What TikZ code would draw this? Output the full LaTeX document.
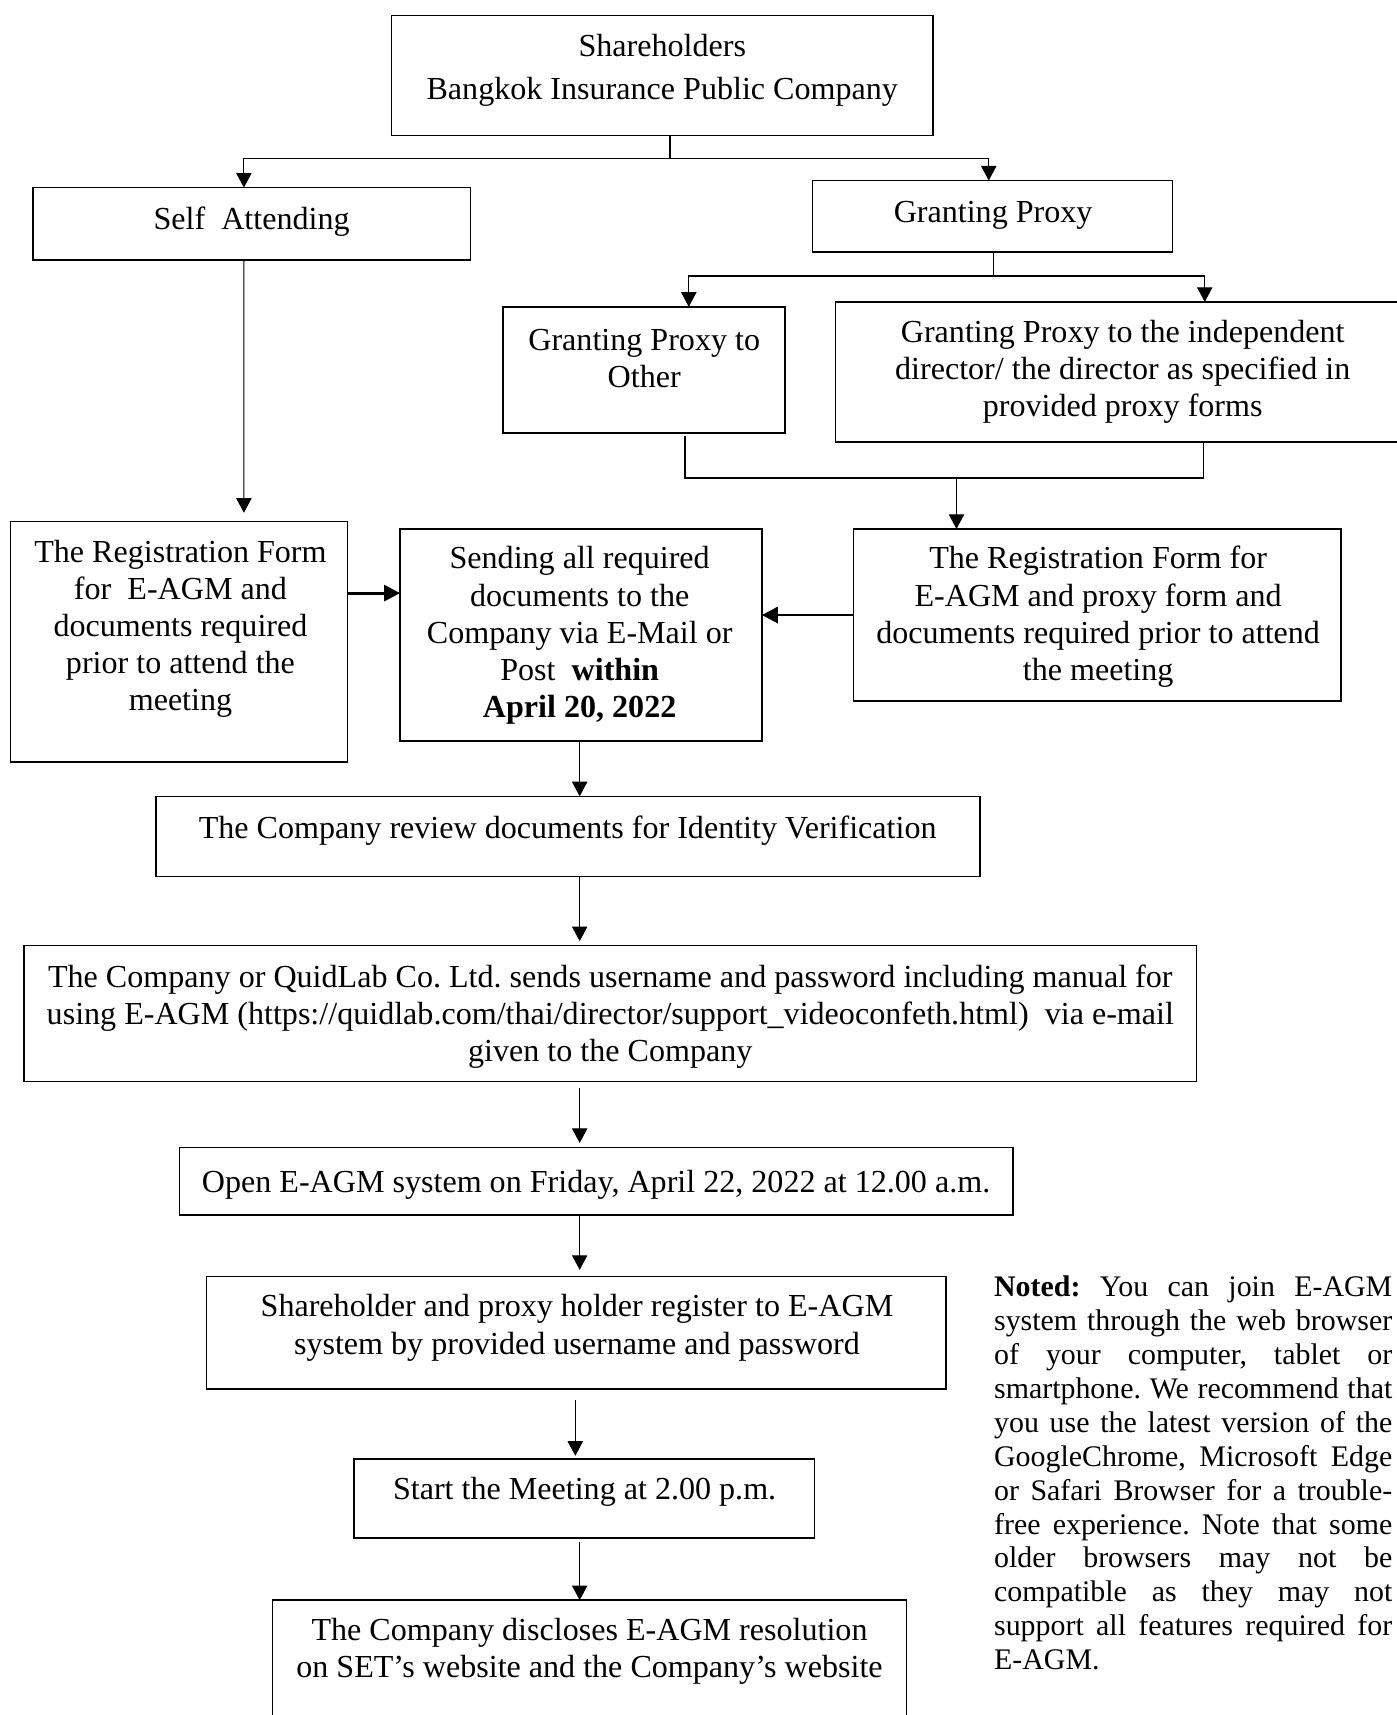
\documentclass[tikz,border=0pt]{standalone}
\usepackage{fontspec}
\setmainfont{Liberation Serif}
\usetikzlibrary{arrows.meta,calc,fit}
\hbadness=10000
\frenchspacing

\tikzset{every picture/.style={line width=0.8pt}}
\tikzset{
  box/.style={draw, line width=1pt, inner sep=0pt, outer sep=0pt},
  txt/.style={align=center, inner sep=0pt, font=\fontsize{22}{25.5}\selectfont},
  arr/.style={line width=0.8pt, -{Triangle[length=10pt,width=10.5pt]}},
  fatarr/.style={line width=2pt, -{Triangle[length=11pt,width=11pt]}},
  note/.style={anchor=north west, inner sep=0pt, text width=273pt, align=justify, font=\fontsize{20.5}{23.25}\selectfont}
}

\begin{document}
\begin{tikzpicture}[x=0.75pt,y=0.75pt,yscale=-1,xscale=1]
	\useasboundingbox (0,0) rectangle (1277,1568);

	%Shape: Rectangle [shareholders]
	\node[box, fit={(358,14)(853,124)}] (sh) {};
	%Shape: Rectangle [self attending]
	\node[box, fit={(30,171.5)(430,237.5)}] (self) {};
	%Shape: Rectangle [granting proxy]
	\node[box, fit={(743,165)(1072,230.5)}] (proxy) {};
	%Shape: Rectangle [proxy to other]
	\node[box, fit={(460,280.5)(717.5,396)}] (other) {};
	%Shape: Rectangle [proxy to director]
	\node[box, fit={(764,276)(1300,404.3)}] (indep) {};
	%Shape: Rectangle [registration, self]
	\node[box, fit={(9.8,476.8)(317.7,696.7)}] (regL) {};
	%Shape: Rectangle [sending]
	\node[box, fit={(365.8,483.6)(696.5,677.5)}] (send) {};
	%Shape: Rectangle [registration, proxy]
	\node[box, fit={(780.4,483.6)(1226,641)}] (regR) {};
	%Shape: Rectangle [review]
	\node[box, fit={(142.6,728)(896,801.4)}] (review) {};
	%Shape: Rectangle [quidlab]
	\node[box, fit={(22,864.5)(1094,989)}] (quid) {};
	%Shape: Rectangle [open system]
	\node[box, fit={(164,1049)(926,1111)}] (open) {};
	%Shape: Rectangle [register]
	\node[box, fit={(189,1167)(865,1270)}] (reg) {};
	%Shape: Rectangle [start]
	\node[box, fit={(323.5,1334)(744.5,1406)}] (start) {};
	%Shape: Rectangle [disclose]
	\node[box, fit={(249,1463)(829,1600)}] (disc) {};

	% Text Node
	\node[txt] (sh-t) at (605.5,64.5) {Shareholders\\[4.2pt]Bangkok Insurance Public Company};
	% Text Node
	\node[txt] (self-t) at (230,203) {Self\ \ Attending};
	% Text Node
	\node[txt] (proxy-t) at (908,197) {Granting Proxy};
	% Text Node
	\node[txt] (other-t) at (589,328) {Granting Proxy to\\Other};
	% Text Node
	\node[txt] (indep-t) at (1026.5,340) {Granting Proxy to the independent\\director/ the director as specified in\\provided proxy forms};
	% Text Node
	\node[txt] (regL-t) at (165,575) {The Registration Form\\for\ \ E-AGM and\\documents required\\prior to attend the\\meeting};
	% Text Node
	\node[txt] (send-t) at (530,581) {Sending all required\\documents to the\\Company via E-Mail or\\Post\ \ \textbf{within}\\\textbf{April 20, 2022}};
	% Text Node
	\node[txt] (regR-t) at (1004,564) {The Registration Form for\\E-AGM and proxy form and\\documents required prior to attend\\the meeting};
	% Text Node
	\node[txt] (review-t) at (519,759) {The Company review documents for Identity Verification};
	% Text Node
	\node[txt] (quid-t) at (558,929.5) {The Company or QuidLab Co. Ltd. sends username and password including manual for\\using E-AGM (https://quidlab.com/thai/director/support\_videoconfeth.html)\ \ via e-mail\\given to the Company};
	% Text Node
	\node[txt] (open-t) at (545,1083) {Open E-AGM system on Friday, April 22, 2022 at 12.00 a.m.};
	% Text Node
	\node[txt] (reg-t) at (527.5,1214) {Shareholder and proxy holder register to E-AGM\\system by provided username and password};
	% Text Node
	\node[txt] (start-t) at (534.5,1364) {Start the Meeting at 2.00 p.m.};
	% Text Node
	\node[txt] (disc-t) at (539,1510) {The Company discloses E-AGM resolution\\on SET's website and the Company's website};
	% Text Node
	\node[note] (noted) at (908.4,1166) {\textbf{Noted:} You can join E-AGM\linebreak system through the web browser\linebreak of your computer, tablet or\linebreak smartphone. We recommend that\linebreak you use the latest version of the\linebreak GoogleChrome, Microsoft Edge\linebreak or Safari Browser for a trouble-\linebreak free experience. Note that some\linebreak older browsers may not be\linebreak compatible as they may not\linebreak support all features required for\linebreak E-AGM.};

	% Connectors
	\coordinate (fork1) at (612.5,144.7);
	\coordinate (fork2) at (908.4,252.3);
	\coordinate (join) at (874.5,437);
	\coordinate (axis) at (530,0);

	\draw (sh.south -| fork1) -- (fork1);
	\draw[arr] (fork1) -| ($(self.north)+(-7,0)$);
	\draw[arr] (fork1) -| ($(proxy.north)+(-3.5,0)$);
	\draw (proxy.south -| fork2) -- (fork2);
	\draw[arr] (fork2) -| ($(other.north)+(41,0)$);
	\draw[arr] (fork2) -| ($(indep.north)+(69.5,0)$);
	\draw ($(other.south)+(37.5,3)$) |- (join) -| ($(indep.south)+(68,0)$);
	\draw[arr] (join) -- (join |- regR.north);
	\draw[arr] ($(self.south)+(-7,0)$) -- ($(regL.north)+(59.25,-8)$);

	\coordinate (la) at ($(regL.east)+(0,-44.5)$);
	\draw[fatarr] (la) -- (la -| send.west);
	\draw[fatarr] (regR.west) -- (regR.west -| send.east);

	\draw[arr] (axis |- send.south) -- (axis |- review.north);
	\draw[arr] (axis |- review.south) -- ($(axis |- quid.north)+(0,-4)$);
	\draw[arr] ($(axis |- quid.south)+(0,6)$) -- ($(axis |- open.north)+(0,-4)$);
	\draw[arr] (axis |- open.south) -- ($(axis |- reg.north)+(0,-6)$);
	\draw[arr] ($(axis |- reg.south)+(-4,10)$) -- ($(axis |- start.north)+(-4,-3)$);
	\draw[arr] ($(axis |- start.south)+(0,4)$) -- (axis |- disc.north);

\end{tikzpicture}
\end{document}
